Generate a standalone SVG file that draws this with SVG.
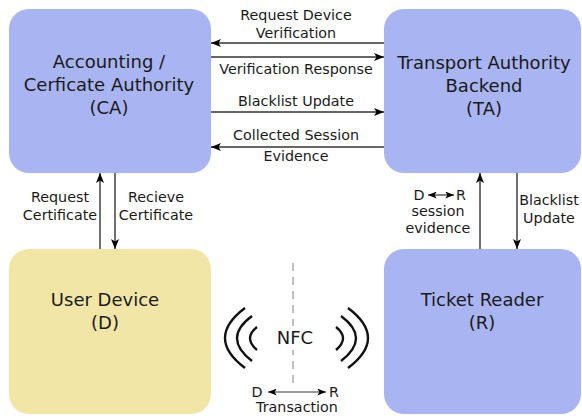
<svg xmlns="http://www.w3.org/2000/svg" width="582" height="420" viewBox="0 0 582 420">
<defs>
<marker id="ah" viewBox="0 0 10 8" refX="10" refY="4" markerWidth="10" markerHeight="8" markerUnits="userSpaceOnUse" orient="auto-start-reverse">
<path d="M0,0 L10,4 L0,8 L2.5,4 Z" fill="#000"/>
</marker>
<marker id="ahs" viewBox="0 0 10 8" refX="10" refY="4" markerWidth="9" markerHeight="7" markerUnits="userSpaceOnUse" orient="auto-start-reverse">
<path d="M0,0 L10,4 L0,8 L2.5,4 Z" fill="#000"/>
</marker>
</defs>
<style>
.blue{fill:#a9b5f2;}
.yellow{fill:#f2e6a7;}
.nl{font-family:"DejaVu Sans",sans-serif;font-size:18px;fill:#1a1a1a;text-anchor:middle;}
.el{font-family:"DejaVu Sans",sans-serif;font-size:14.3px;fill:#1a1a1a;text-anchor:middle;}
.c{stroke:#333;stroke-width:1.4;fill:none;marker-end:url(#ah);}
.arc{stroke:#111;stroke-width:2.4;fill:none;}
</style>
<rect width="582" height="420" fill="#fff"/>
<g id="ca">
<rect class="blue" x="9" y="9" width="202" height="164" rx="20"/>
<text class="nl" x="109" y="68">Accounting /</text>
<text class="nl" x="109" y="91">Cerficate Authority</text>
<text class="nl" x="109" y="114">(CA)</text>
</g>
<g id="ta">
<rect class="blue" x="384" y="9" width="197" height="164" rx="20"/>
<text class="nl" x="484" y="69">Transport Authority</text>
<text class="nl" x="484" y="92">Backend</text>
<text class="nl" x="484" y="115">(TA)</text>
</g>
<g id="d">
<rect class="yellow" x="9" y="249" width="202" height="165" rx="20"/>
<text class="nl" x="105" y="306">User Device</text>
<text class="nl" x="105" y="329">(D)</text>
</g>
<g id="r">
<rect class="blue" x="384" y="249" width="197" height="165" rx="20"/>
<text class="nl" x="482" y="306">Ticket Reader</text>
<text class="nl" x="482" y="329">(R)</text>
</g>
<g id="connectors">
<line class="c" x1="384" y1="43" x2="211" y2="43"/>
<line class="c" x1="211" y1="57" x2="384" y2="57"/>
<line class="c" x1="211" y1="112" x2="384" y2="112"/>
<line class="c" x1="384" y1="147" x2="211" y2="147"/>
<line class="c" x1="100" y1="249" x2="100" y2="173"/>
<line class="c" x1="115" y1="173" x2="115" y2="249"/>
<line class="c" x1="480" y1="249" x2="480" y2="173"/>
<line class="c" x1="517" y1="173" x2="517" y2="249"/>
<line x1="268" y1="392" x2="326" y2="392" stroke="#333" stroke-width="1.2" marker-start="url(#ahs)" marker-end="url(#ahs)"/>
<line x1="428" y1="195" x2="454" y2="195" stroke="#333" stroke-width="1.2" marker-start="url(#ahs)" marker-end="url(#ahs)"/>
</g>
<g id="labels">
<text class="el" x="296" y="20">Request Device</text>
<text class="el" x="296" y="38">Verification</text>
<text class="el" x="296" y="74">Verification Response</text>
<text class="el" x="296" y="106">Blacklist Update</text>
<text class="el" x="296" y="140">Collected Session</text>
<text class="el" x="296" y="161">Evidence</text>
<text class="el" x="60" y="202">Request</text>
<text class="el" x="60" y="220">Certificate</text>
<text class="el" x="156" y="202">Recieve</text>
<text class="el" x="156" y="220">Certificate</text>
<text class="el" x="419" y="200">D</text>
<text class="el" x="461" y="200">R</text>
<text class="el" x="438" y="216">session</text>
<text class="el" x="438" y="233">evidence</text>
<text class="el" x="549" y="205">Blacklist</text>
<text class="el" x="549" y="223">Update</text>
</g>
<g id="nfc">
<line x1="293" y1="263" x2="293" y2="384" stroke="#aaa" stroke-width="1.5" stroke-dasharray="8,6"/>
<rect x="270" y="326" width="50" height="24" fill="#fff"/>
<text class="nl" x="295" y="344">NFC</text>
<path class="arc" d="M245 308 Q205 338 245 368"/>
<path class="arc" d="M252 316 Q222 338 252 361"/>
<path class="arc" d="M257 327 Q243 338 257 350"/>
<path class="arc" d="M348 308 Q388 338 348 368"/>
<path class="arc" d="M341 316 Q371 338 341 361"/>
<path class="arc" d="M336 327 Q350 338 336 350"/>
<text class="el" x="257" y="397">D</text>
<text class="el" x="334" y="397">R</text>
<text class="el" x="297" y="412">Transaction</text>
</g>
</svg>
